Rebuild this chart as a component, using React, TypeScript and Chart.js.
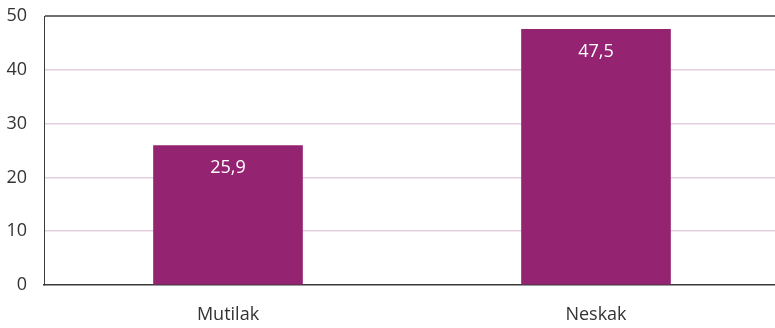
import React, { useEffect, useRef } from "react";
import { Chart, registerables } from "chart.js";

Chart.register(...registerables);

const categories = ["Mutilak", "Neskak"];
const values = [25.9, 47.5];
const valueLabels = ["25,9", "47,5"];
const yTicks = [0, 10, 20, 30, 40, 50];

const FONT = "'Open Sans', 'Noto Sans', sans-serif";

const valueLabelPlugin = {
  id: "valueLabels",
  afterDatasetsDraw(chart: any) {
    const ctx = chart.ctx;
    const meta = chart.getDatasetMeta(0);
    ctx.save();
    ctx.fillStyle = "#ffffff";
    ctx.font = `18px ${FONT}`;
    ctx.textAlign = "center";
    ctx.textBaseline = "middle";
    meta.data.forEach((bar: any, i: number) => {
      ctx.fillText(valueLabels[i], bar.x, bar.y + 22);
    });
    ctx.restore();
  },
};

export default function App() {
  const ref = useRef<HTMLCanvasElement | null>(null);
  useEffect(() => {
    if (!ref.current) return;
    const chart = new Chart(ref.current, {
      type: "bar",
      data: {
        labels: categories,
        datasets: [
          {
            data: values,
            backgroundColor: "#942372",
            barThickness: 149,
          },
        ],
      },
      options: {
        animation: false,
        responsive: false,
        maintainAspectRatio: false,
        layout: { padding: { top: 16, left: 0, right: 0, bottom: 0 } },
        plugins: {
          legend: { display: false },
          tooltip: { enabled: false },
        },
        scales: {
          x: {
            grid: { display: false, drawTicks: false },
            border: { display: true, color: "#3a3a3a", width: 1.5 },
            ticks: {
              color: "#333333",
              font: { family: FONT, size: 18 },
              padding: 19,
            },
            afterFit(scale: any) {
              scale.height = 43;
              scale.paddingLeft = 0;
              scale.paddingRight = 0;
            },
          },
          y: {
            min: 0,
            max: 50,
            afterBuildTicks(scale: any) {
              scale.ticks = yTicks.map((v) => ({ value: v }));
            },
            grid: {
              drawTicks: false,
              color: (c: any) =>
                c.tick && c.tick.value === 50 ? "#707070" : c.tick && c.tick.value === 0 ? "rgba(0,0,0,0)" : "#e6cde0",
              lineWidth: (c: any) => (c.tick && c.tick.value === 50 ? 2 : 1.5),
            },
            border: { display: true, color: "#3a3a3a", width: 1 },
            ticks: {
              color: "#333333",
              font: { family: FONT, size: 18 },
              padding: 17,
            },
            afterFit(scale: any) {
              scale.width = 44;
              scale.paddingTop = 0;
              scale.paddingBottom = 0;
            },
          },
        },
      },
      plugins: [valueLabelPlugin],
    });
    return () => chart.destroy();
  }, []);
  return (
    <div
      style={{
        position: "fixed",
        left: 0,
        top: 0,
        width: 775,
        height: 328,
        overflow: "hidden",
        background: "#ffffff",
      }}
    >
      <canvas ref={ref} width={780} height={328} style={{ display: "block", width: 780, height: 328 }} />
    </div>
  );
}
